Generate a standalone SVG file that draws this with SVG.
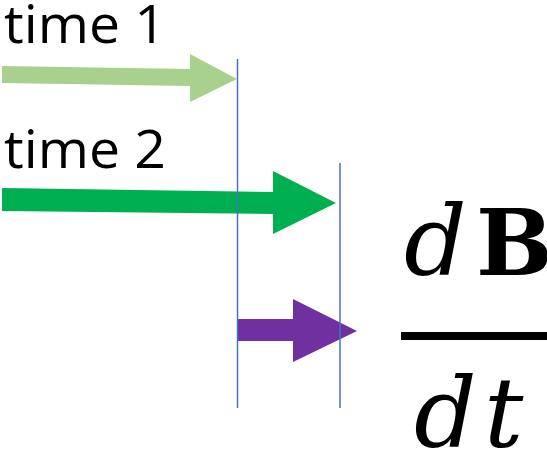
<svg xmlns="http://www.w3.org/2000/svg" width="547" height="452" viewBox="0 0 547 452">
<style>
.lbl{font-family:"Open Sans","Liberation Sans",sans-serif;font-size:53px;fill:#000}
.mi{font-family:"DejaVu Serif","Liberation Serif",serif;font-style:italic;font-size:98px;fill:#000}
.mb{font-family:"DejaVu Serif","Liberation Serif",serif;font-weight:bold;font-size:91px;fill:#000}
.vl{stroke:#4472C4;stroke-width:1.5;fill:none}
</style>
<rect width="547" height="452" fill="#fff"/>
<g id="arrow-time1"><polygon points="2,66 190,69 190,54 237,79 190,102 190,86 2,83" fill="#A9D18E"/></g>
<g id="arrow-time2"><polygon points="2,188 273,192 273,171 336,203 273,234 273,214 2,211" fill="#00B050"/></g>
<g id="arrow-diff"><polygon points="238,319 293,319 293,299 357,331 293,362 293,341 238,341" fill="#7030A0"/></g>
<g id="connectors">
<line class="vl" x1="237.5" y1="59" x2="237.5" y2="408"/>
<line class="vl" x1="340" y1="163" x2="340" y2="408"/>
</g>
<g id="label-time1"><text class="lbl" x="4" y="43" textLength="162" lengthAdjust="spacingAndGlyphs">time 1</text></g>
<g id="label-time2"><text class="lbl" x="4" y="168" textLength="162" lengthAdjust="spacingAndGlyphs">time 2</text></g>
<g id="fraction">
<text y="275"><tspan class="mi" x="404">d</tspan><tspan class="mb" x="476">B</tspan></text>
<rect x="401" y="332" width="146" height="8" fill="#000"/>
<text y="447"><tspan class="mi" x="414">d</tspan><tspan class="mi" x="484">t</tspan></text>
</g>
</svg>
